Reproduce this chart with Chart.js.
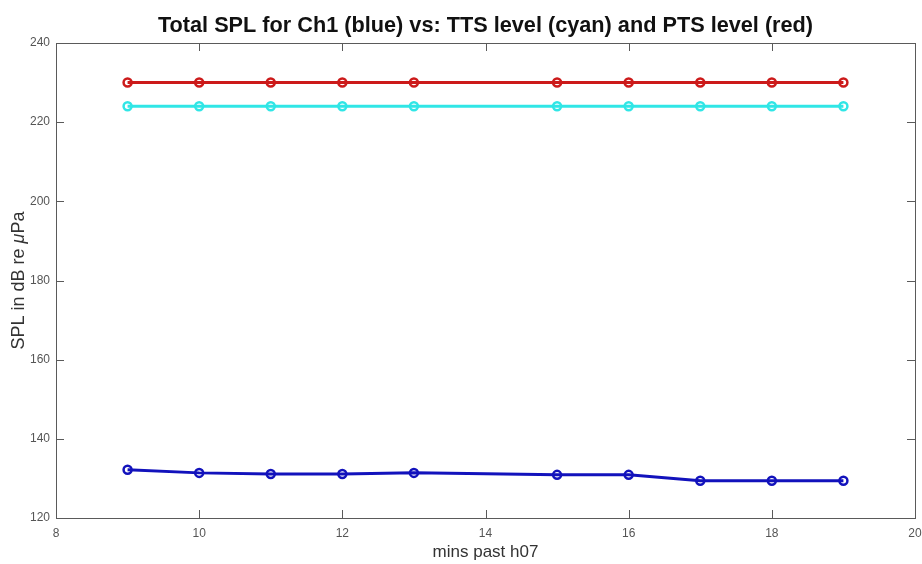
<!DOCTYPE html>
<html>
<head>
<meta charset="utf-8">
<script src="https://cdn.jsdelivr.net/npm/chart.js@4"></script>
<style>
  html,body{margin:0;padding:0;background:#fff;}
  #wrap{width:922px;height:564px;}
</style>
</head>
<body>
<div id="wrap"><canvas id="spl"></canvas></div>
<script>
const minutes = [9, 10, 11, 12, 13, 15, 16, 17, 18, 19];
const ch1Spl = [132.2, 131.4, 131.1, 131.1, 131.4, 130.9, 130.9, 129.4, 129.4, 129.4];
const ttsLevel = [224, 224, 224, 224, 224, 224, 224, 224, 224, 224];
const ptsLevel = [230, 230, 230, 230, 230, 230, 230, 230, 230, 230];
const xTicks = [8, 10, 12, 14, 16, 18, 20];
const yTicks = [120, 140, 160, 180, 200, 220, 240];
const titleText = 'Total SPL for Ch1 (blue) vs: TTS level (cyan) and PTS level (red)';

const axisColor = '#5a5a5a';
const tickFont = {family:'Liberation Sans', size:12};

function series(ys, color){
  return {
    data: minutes.map((m,i)=>({x:m, y:ys[i]})),
    borderColor: color,
    borderWidth: 3,
    pointRadius: 4,
    pointBorderWidth: 2.5,
    pointBackgroundColor: 'rgba(255,255,255,0)',
    tension: 0
  };
}

// MATLAB style box, inward ticks, title over the axes and y label with italic mu
const boxPlugin = {
  id:'box',
  afterDraw(chart){
    const {ctx, chartArea:a, scales:{x,y}} = chart;
    ctx.save();
    ctx.strokeStyle = axisColor;
    ctx.lineWidth = 1;
    ctx.strokeRect(a.left+0.5, a.top+0.5, a.right-a.left, a.bottom-a.top);
    ctx.beginPath();
    xTicks.forEach(v=>{
      const px = Math.round(x.getPixelForValue(v))+0.5;
      ctx.moveTo(px, a.bottom); ctx.lineTo(px, a.bottom-8);
      ctx.moveTo(px, a.top); ctx.lineTo(px, a.top+8);
    });
    yTicks.forEach(v=>{
      const py = Math.round(y.getPixelForValue(v))+0.5;
      ctx.moveTo(a.left, py); ctx.lineTo(a.left+8, py);
      ctx.moveTo(a.right, py); ctx.lineTo(a.right-8, py);
    });
    ctx.stroke();

    // title
    ctx.fillStyle = '#111';
    ctx.font = 'bold 21.7px "Liberation Sans"';
    ctx.textAlign = 'center';
    ctx.textBaseline = 'alphabetic';
    ctx.fillText(titleText, (a.left+a.right)/2, 32);

    // y label
    const parts = [['SPL in dB re ', ''], ['\u03bc', 'italic '], ['Pa', '']];
    ctx.translate(24, (a.top+a.bottom)/2);
    ctx.rotate(-Math.PI/2);
    ctx.fillStyle = '#333';
    ctx.textAlign = 'left';
    let total = 0;
    parts.forEach(p=>{ ctx.font = p[1]+'18px "Liberation Sans"'; total += ctx.measureText(p[0]).width; });
    let cx = -total/2;
    parts.forEach(p=>{
      ctx.font = p[1]+'18px "Liberation Sans"';
      ctx.fillText(p[0], cx, 0);
      cx += ctx.measureText(p[0]).width;
    });
    ctx.restore();
  }
};

new Chart(document.getElementById('spl'), {
  type:'line',
  data:{
    datasets:[
      series(ptsLevel, '#cc1a1a'),
      series(ttsLevel, '#30e6e6'),
      series(ch1Spl, '#1212bc')
    ]
  },
  options:{
    responsive:true,
    maintainAspectRatio:false,
    animation:false,
    layout:{padding:{right:7, left:0, top:43, bottom:0}},
    plugins:{
      legend:{display:false},
      tooltip:{enabled:false},
      title:{display:false}
    },
    scales:{
      x:{
        type:'linear',
        min:8, max:20,
        afterBuildTicks(s){ s.ticks = xTicks.map(v=>({value:v})); },
        afterFit(s){ s.height = 46; s.paddingLeft = 0; s.paddingRight = 0; },
        grid:{display:false, drawTicks:false, tickLength:0},
        border:{display:false},
        ticks:{color:'#555', font:tickFont, padding:8},
        title:{display:true, text:'mins past h07', color:'#333',
          font:{family:'Liberation Sans', size:17}, padding:{top:0, bottom:1}}
      },
      y:{
        type:'linear',
        min:120, max:240,
        afterBuildTicks(s){ s.ticks = yTicks.map(v=>({value:v})); },
        afterFit(s){ s.width = 56; s.paddingTop = 0; s.paddingBottom = 0; },
        grid:{display:false, drawTicks:false, tickLength:0},
        border:{display:false},
        ticks:{color:'#555', font:tickFont, padding:6}
      }
    }
  },
  plugins:[boxPlugin]
});
</script>
</body>
</html>
